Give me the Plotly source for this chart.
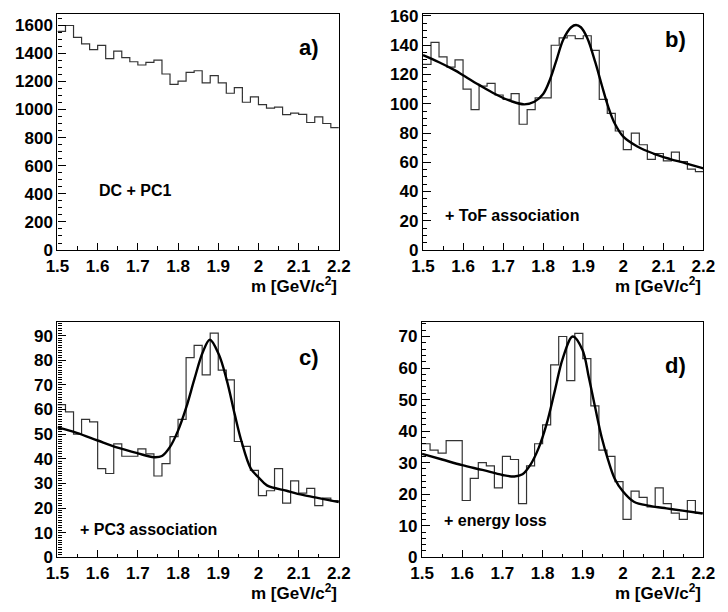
import numpy as np
import plotly.graph_objects as go

# ---------------- data ----------------
bin_lo, bin_w, n_bins = 1.5, 0.02, 35

counts_a = [1555, 1597, 1512, 1466, 1425, 1455, 1362, 1415, 1369, 1339,
            1316, 1335, 1351, 1252, 1178, 1201, 1263, 1275, 1189, 1240,
            1189, 1115, 1155, 1051, 1090, 1034, 1009, 1016, 963, 974,
            965, 907, 947, 900, 870]
counts_b = [127, 142, 132, 125, 130, 110, 96, 112, 114, 106,
            103, 107, 86, 96, 104, 104, 140, 145, 146.5, 144.5,
            146.5, 136.5, 103, 93.4, 81.4, 68.6, 80, 72, 62, 66,
            61, 67, 60.4, 55.3, 53.6]
counts_c = [62, 59, 50, 56, 55, 36, 34, 46, 41, 41,
            44, 42, 33, 38, 49, 56, 81, 86, 74, 91,
            76, 72, 47, 45, 35.3, 25, 27, 36, 22, 31,
            26, 28, 21, 24, 23]
counts_d = [36, 34, 33, 37, 37, 18, 25, 30, 29, 22,
            32, 31, 17, 29, 36, 42, 61, 70, 56, 71,
            63, 48, 34, 32, 24, 12, 21, 19, 16, 22,
            17, 14, 12, 18, 14]

fit_b_m = [1.50, 1.54, 1.58, 1.60, 1.64, 1.68, 1.72, 1.753, 1.778, 1.80, 1.818, 1.834,
           1.85, 1.87, 1.882, 1.894, 1.91, 1.93, 1.946, 1.963, 1.979, 2.00, 2.035,
           2.075, 2.115, 2.156, 2.20]
fit_b_v = [133.2, 128.4, 122.8, 119.5, 112.9, 106.7, 101.8, 99.6, 101.4, 106.7, 117.3, 130.6,
           143.8, 152.3, 153.8, 152.3, 145, 128.4, 113, 97.4, 86.3, 77.5, 70.8,
           66, 62.4, 59.3, 55.8]
fit_c_m = [1.50, 1.548, 1.60, 1.652, 1.70, 1.74, 1.76, 1.78, 1.80, 1.82, 1.841, 1.861,
           1.879, 1.901, 1.921, 1.941, 1.957, 1.981, 2.00, 2.021, 2.07, 2.11, 2.15, 2.20]
fit_c_v = [52.7, 50.5, 47.4, 44.4, 42.2, 40.6, 41.1, 44.8, 51.4, 60.6, 72.5, 83,
           88.3, 82.5, 72, 58, 47.5, 36, 32.5, 29.2, 27, 25.3, 24, 22.4]
fit_d_m = [1.50, 1.55, 1.60, 1.65, 1.70, 1.73, 1.75, 1.77, 1.79, 1.81, 1.83, 1.85,
           1.875, 1.899, 1.915, 1.931, 1.947, 1.963, 1.979, 1.999, 2.027, 2.067,
           2.108, 2.148, 2.198]
fit_d_v = [32.8, 31, 29.2, 27.7, 26.1, 25.6, 26.3, 29.4, 34.6, 42.3, 52.6, 63,
           70, 65.8, 57, 47.3, 38, 30.8, 25, 21, 17.6, 16.3,
           15.5, 14.8, 13.9]

panel_tags = ["a)", "b)", "c)", "d)"]
panel_notes = ["DC + PC1", "+ ToF association", "+ PC3 association", "+ energy loss"]
x_title = "m [GeV/c<sup>2</sup>]"

# ---------------- layout geometry ----------------
W, H = 728, 612
def px_x(a, b):
    return [a / W, b / W]
def px_y(top, bottom):
    return [1 - bottom / H, 1 - top / H]

panels = [
    dict(counts=counts_a, fit=None, xd=px_x(47, 338), yd=px_y(7, 250), yr=[0, 1680], dt=200, mdt=50,
         tag_xy=(307, 42), note_xy=(88, 189)),
    dict(counts=counts_b, fit=(fit_b_m, fit_b_v), xd=px_x(425, 715), yd=px_y(7, 250), yr=[0, 161.5], dt=20, mdt=5,
         tag_xy=(686, 33), note_xy=(446, 214)),
    dict(counts=counts_c, fit=(fit_c_m, fit_c_v), xd=px_x(47, 338), yd=px_y(324, 566), yr=[0, 95.5], dt=10, mdt=1,
         tag_xy=(307, 361), note_xy=(68, 537)),
    dict(counts=counts_d, fit=(fit_d_m, fit_d_v), xd=px_x(424, 715), yd=px_y(324, 566), yr=[0, 74.6], dt=10, mdt=2,
         tag_xy=(686, 369), note_xy=(445, 528)),
]

edges = [round(bin_lo + i * bin_w, 4) for i in range(n_bins + 1)]

FONT = "Liberation Sans, Arial, Helvetica, sans-serif"
fig = go.Figure()
annotations = []
layout = dict(width=W, height=H, margin=dict(l=0, r=0, t=0, b=0),
              paper_bgcolor="white", plot_bgcolor="white", showlegend=False)

for i, p in enumerate(panels):
    k = "" if i == 0 else str(i + 1)
    xa, ya = "x" + k, "y" + k
    fig.add_trace(go.Scatter(x=edges, y=list(p["counts"]) + [p["counts"][-1]],
                             mode="lines", line=dict(shape="hv", color="#333333", width=1.2),
                             xaxis=xa, yaxis=ya, hoverinfo="skip"))
    if p["fit"] is not None:
        fig.add_trace(go.Scatter(x=p["fit"][0], y=p["fit"][1], mode="lines",
                                 line=dict(shape="spline", smoothing=1.0, color="black", width=2.4),
                                 xaxis=xa, yaxis=ya, hoverinfo="skip"))
    layout["xaxis" + k] = dict(domain=p["xd"], anchor=ya, range=[1.5, 2.2],
                               showline=True, linecolor="black", linewidth=1.3, mirror=True,
                               ticks="inside", ticklen=7, tickwidth=1, tickcolor="black",
                               tick0=1.5, dtick=0.1,
                               minor=dict(ticks="inside", ticklen=3.5, dtick=0.05, tickcolor="black", tickwidth=1),
                               tickfont=dict(family=FONT, size=17, color="black", weight="bold"),
                               showgrid=False, zeroline=False)
    layout["yaxis" + k] = dict(domain=p["yd"], anchor=xa, range=p["yr"],
                               showline=True, linecolor="black", linewidth=1.3, mirror=True,
                               ticks="inside", ticklen=8, tickwidth=1, tickcolor="black",
                               tick0=0, dtick=p["dt"],
                               minor=dict(ticks="inside", ticklen=4, dtick=p["mdt"], tickcolor="black", tickwidth=1),
                               tickfont=dict(family=FONT, size=17, color="black", weight="bold"),
                               showgrid=False, zeroline=False)
    # panel tag
    tx, ty = p["tag_xy"]
    annotations.append(dict(text=panel_tags[i], x=tx / W, y=1 - ty / H, xref="paper", yref="paper",
                            xanchor="center", yanchor="middle", showarrow=False,
                            font=dict(family=FONT, size=22, color="black", weight="bold")))
    nx, ny = p["note_xy"]
    annotations.append(dict(text=panel_notes[i], x=nx / W, y=1 - ny / H, xref="paper", yref="paper",
                            xanchor="left", yanchor="middle", showarrow=False,
                            font=dict(family=FONT, size=16, color="black", weight="bold")))
    # x-axis title (right aligned under the frame)
    bottom_px = (1 - p["yd"][0]) * H
    annotations.append(dict(text=x_title, x=p["xd"][1], y=1 - (bottom_px + 36) / H,
                            xref="paper", yref="paper", xanchor="right", yanchor="middle",
                            showarrow=False,
                            font=dict(family=FONT, size=17, color="black", weight="bold")))

layout["annotations"] = annotations
fig.update_layout(**layout)
fig.write_html("out.html")
